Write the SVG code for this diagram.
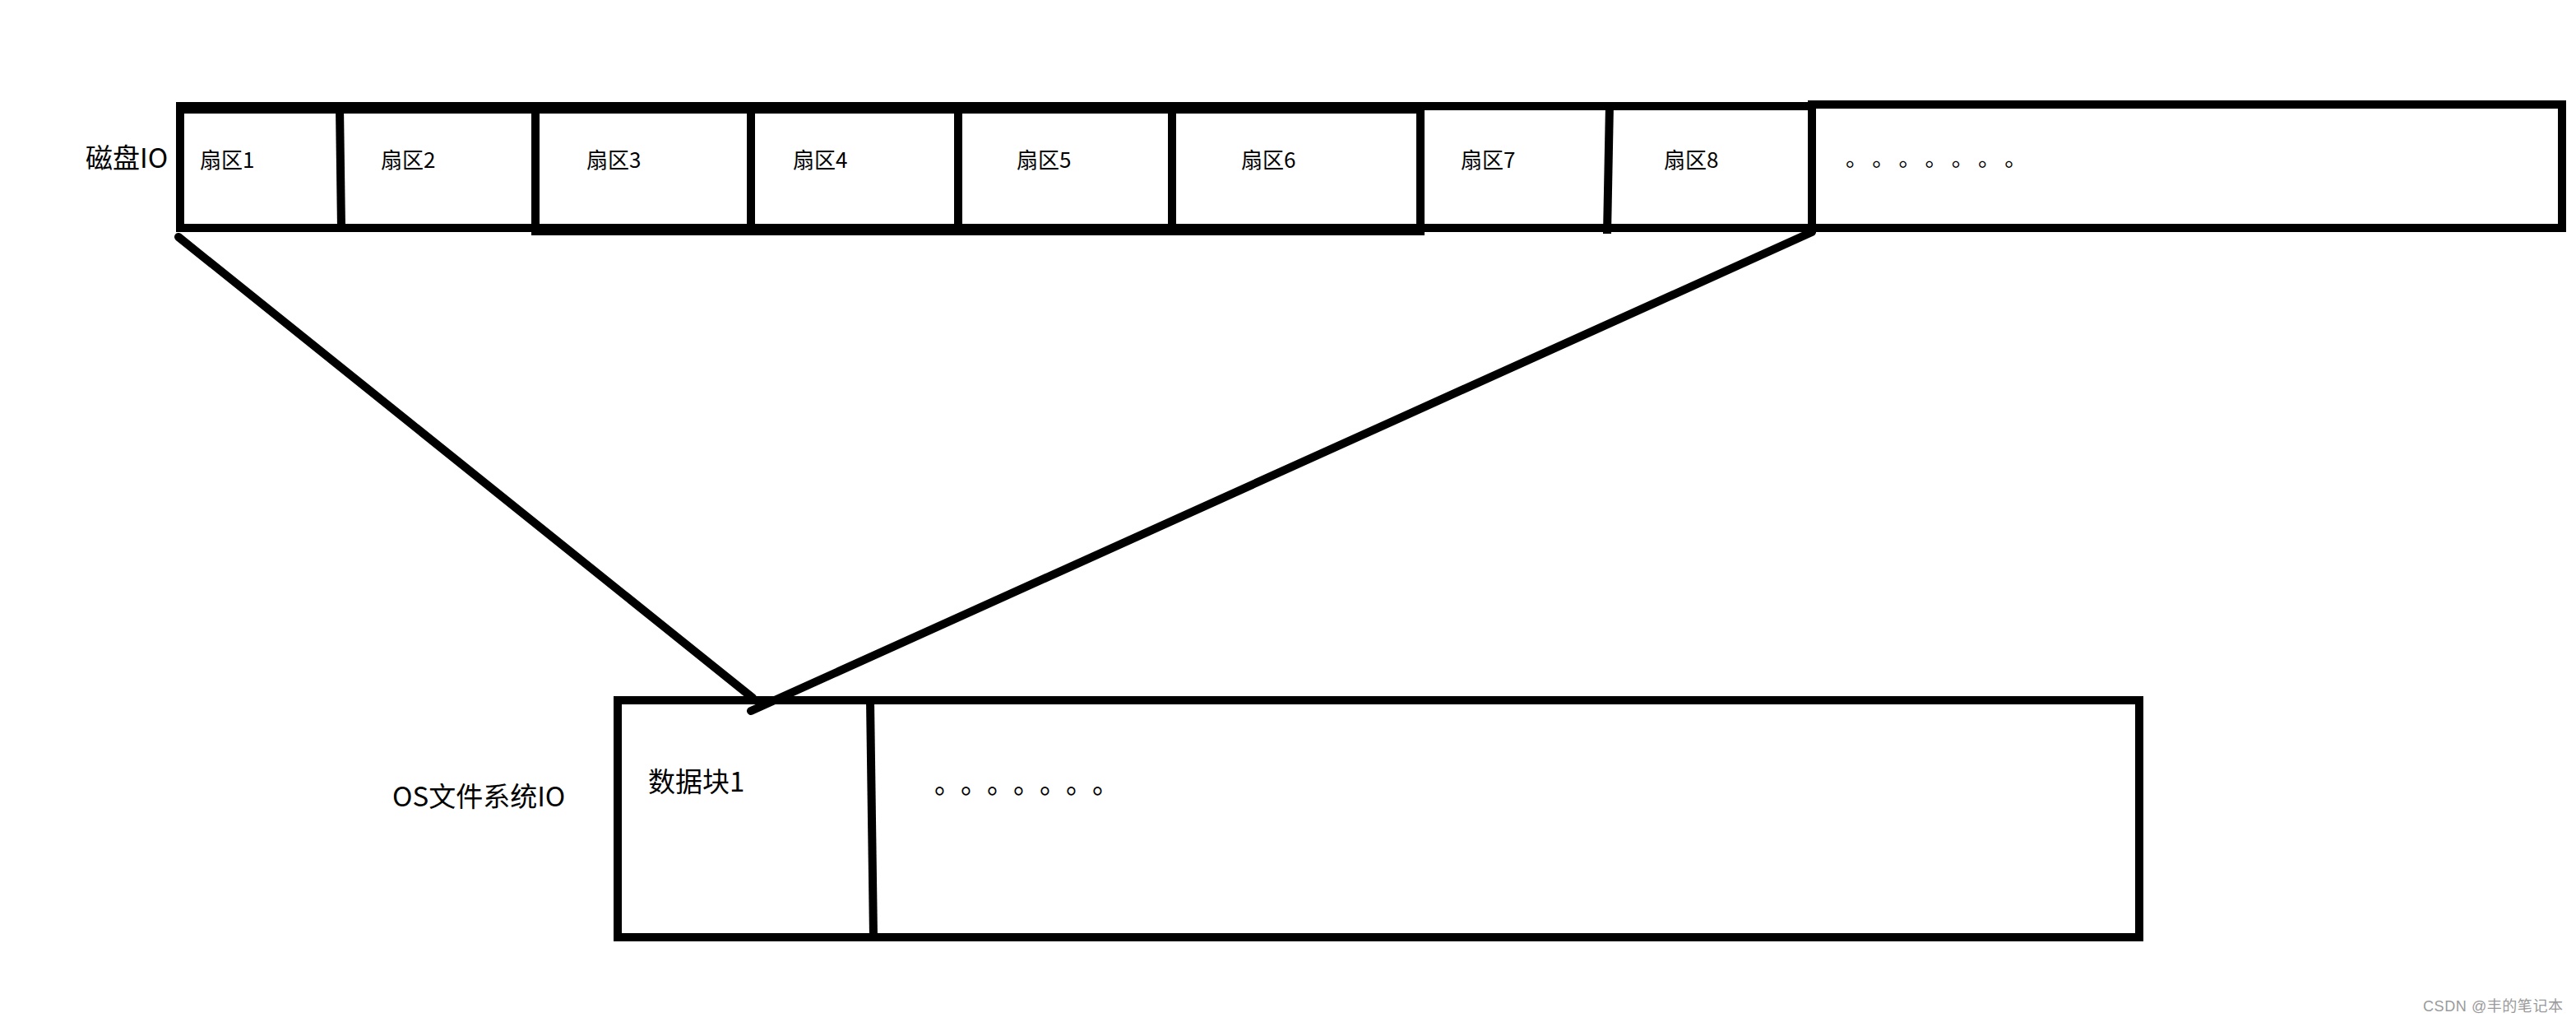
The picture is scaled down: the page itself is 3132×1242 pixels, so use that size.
<svg xmlns="http://www.w3.org/2000/svg" width="3132" height="1242" viewBox="0 0 3132 1242">
<style>
.t{font-family:"Microsoft YaHei","Noto Sans CJK SC",sans-serif;fill:#000}
.s{font-size:26px}
.ln{stroke:#000;fill:none;stroke-linecap:butt}
.cn{stroke:#000;fill:none;stroke-width:10;stroke-linecap:round}
</style>
<rect width="3132" height="1242" fill="#fff"/>
<g id="disk-io">
  <text class="t" x="104" y="204" font-size="33">磁盘IO</text>
  <g id="disk-frame">
    <path class="ln" stroke-width="14" d="M214 131H1732"/>
    <path class="ln" stroke-width="10" d="M1727 129H2203"/>
    <path class="ln" stroke-width="10" d="M219 124V282"/>
    <path class="ln" stroke-width="10" d="M214 277H651"/>
    <path class="ln" stroke-width="14" d="M646 279H1732"/>
    <path class="ln" stroke-width="10" d="M1727 277H2203"/>
  </g>
  <g id="sector1"><text class="t s" x="243" y="204">扇区1</text><path class="ln" stroke-width="10" d="M413 131L415 277"/></g>
  <g id="sector2"><text class="t s" x="463" y="204">扇区2</text><path class="ln" stroke-width="10" d="M651 131V285"/></g>
  <g id="sector3"><text class="t s" x="713" y="204">扇区3</text><path class="ln" stroke-width="10" d="M913 131V279"/></g>
  <g id="sector4"><text class="t s" x="964" y="204">扇区4</text><path class="ln" stroke-width="10" d="M1165 131V279"/></g>
  <g id="sector5"><text class="t s" x="1236" y="204">扇区5</text><path class="ln" stroke-width="10" d="M1425 131V279"/></g>
  <g id="sector6"><text class="t s" x="1509" y="204">扇区6</text><path class="ln" stroke-width="10" d="M1727 131V286"/></g>
  <g id="sector7"><text class="t s" x="1776" y="204">扇区7</text><path class="ln" stroke-width="10" stroke-linecap="round" d="M1957 127L1954 284"/></g>
  <g id="sector8"><text class="t s" x="2023" y="204">扇区8</text></g>
  <g id="sector-more">
    <path class="ln" stroke-width="10" d="M2198 127H3120M3115 122V282M2198 277H3120M2203 122V282"/>
    <text class="t" x="2244" y="202" font-size="27" letter-spacing="18.7">。。。。。。。</text>
  </g>
</g>
<g id="connectors">
  <path class="cn" d="M217 288L915 848"/>
  <path class="cn" d="M2203 282L913 864"/>
</g>
<g id="fs-io">
  <text class="t" x="477" y="980" font-size="33">OS文件系统IO</text>
  <rect x="751" y="851" width="1850" height="288" fill="none" stroke="#000" stroke-width="10"/>
  <g id="block1">
    <text class="t" x="788" y="962" font-size="33">数据块1</text>
    <path class="ln" stroke-width="10" d="M1058 851L1062 1139"/>
  </g>
  <g id="block-more">
    <text class="t" x="1136" y="964" font-size="33" letter-spacing="15.5">。。。。。。。</text>
  </g>
</g>
<text x="2946" y="1229" font-family="Liberation Sans, Noto Sans CJK SC, sans-serif" font-size="18" fill="#9a9a9a" textLength="170">CSDN @丰的笔记本</text>
</svg>
